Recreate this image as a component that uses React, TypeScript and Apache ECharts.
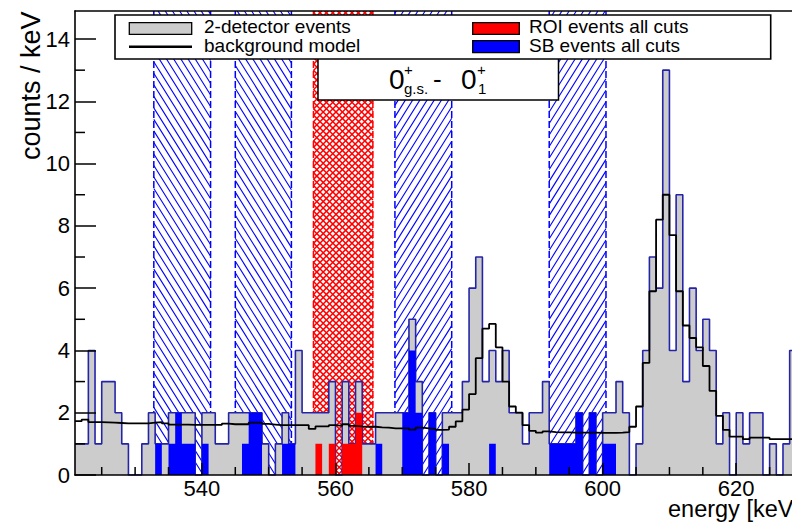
import React, { useEffect, useRef } from "react";
import * as echarts from "echarts";

// ---------------- data ----------------
const FIRST_BIN = 521; // lower edge of the first 1-keV bin
const X_MIN = 521;
const X_MAX = 628.35;
const Y_MAX = 14.9;

// 2-detector events per 1 keV bin, 521..628 keV
const totalCounts = [
  1, 1, 4, 1, 3, 3, 2, 1, 0, 0,
  1, 2, 1, 1, 2, 2, 2, 2, 0, 2,
  2, 1, 1, 2, 2, 2, 2, 2, 1, 0,
  1, 2, 1, 4, 2, 2, 2, 2, 3, 0,
  3, 1, 3, 1, 1, 2, 2, 2, 2, 2,
  5, 3, 0, 2, 0, 2, 2, 2, 3, 6,
  7, 3, 4, 3, 4, 2, 2, 1, 2, 2,
  3, 1, 1, 1, 1, 2, 0, 2, 0, 2,
  2, 3, 2, 0, 1, 4, 7, 6, 13, 4,
  9, 3, 6, 4, 5, 4, 1, 2, 0, 2,
  1, 2, 2, 0, 1, 0, 1, 4,
];

// background model per bin, 521..628 keV
const backgroundModel = [
  1.73, 1.78, 1.7, 1.7, 1.69, 1.68, 1.67, 1.66, 1.66, 1.66,
  1.66, 1.68, 1.7, 1.66, 1.62, 1.62, 1.62, 1.61, 1.61, 1.61,
  1.61, 1.61, 1.65, 1.63, 1.63, 1.63, 1.68, 1.68, 1.64, 1.62,
  1.6, 1.6, 1.6, 1.6, 1.6, 1.48, 1.56, 1.56, 1.6, 1.58,
  1.63, 1.58, 1.56, 1.55, 1.55, 1.53, 1.52, 1.5, 1.5, 1.5,
  1.46, 1.52, 1.5, 1.48, 1.45, 1.46, 1.55, 1.72, 2.1, 2.6,
  3.75, 4.7, 4.85, 4.1, 3.0, 2.2, 2.0, 1.6, 1.42, 1.36,
  1.4, 1.38, 1.37, 1.37, 1.36, 1.36, 1.36, 1.36, 1.35, 1.35,
  1.35, 1.36, 1.38, 1.55, 2.2, 3.6, 5.9, 8.2, 9.0, 7.7,
  5.9, 4.8, 4.4, 4.1, 3.5, 2.7, 1.9, 1.45, 1.23, 1.23,
  1.15, 1.2, 1.2, 1.2, 1.15, 1.15, 1.15, 1.15,
];

// SB events all cuts: [bin lower edge keV, counts]
const sbEvents = [
  [533, 1], [535, 1], [536, 2], [537, 1], [538, 1], [540, 1],
  [546, 1], [547, 2], [548, 2], [552, 1], [553, 1],
  [566, 1], [570, 2], [571, 4], [572, 2], [574, 2], [576, 1],
  [583, 1],
  [592, 1], [593, 1], [594, 1], [595, 1], [596, 2], [598, 2],
  [600, 1], [601, 1],
];

// ROI events all cuts: [bin lower edge keV, counts]
const roiEvents = [
  [557, 1], [559, 1], [561, 1], [562, 1], [563, 2],
];

// side-band windows (keV) and hatch kind (0 = "\\", 1 = "/")
const sbBands = [
  [532.8, 541.3, 0],
  [545.0, 553.4, 0],
  [568.9, 577.4, 1],
  [592.0, 600.5, 1],
];
// region of interest window (keV), kind 2 = cross hatch
const roiBand = [[556.7, 565.6, 2]];

const xMajorTicks = [540, 560, 580, 600, 620];
const xMinorTicks = [525, 530, 535, 545, 550, 555, 565, 570, 575, 585, 590, 595, 605, 610, 615, 625];
const yMajorTicks = [0, 2, 4, 6, 8, 10, 12, 14];
const yMinorTicks = [1, 3, 5, 7, 9, 11, 13];

// ---------------- helpers ----------------
const FONT = "'Liberation Sans', Arial, Helvetica, sans-serif";

function stepData(arr: number[]) {
  const d: number[][] = arr.map((v, i) => [FIRST_BIN + i, v]);
  d.push([FIRST_BIN + arr.length, arr[arr.length - 1]]);
  return d;
}

function sparseToBins(pairs: number[][]) {
  return totalCounts.map((_, i) => {
    const e = FIRST_BIN + i;
    const hit = pairs.find((p) => p[0] === e);
    return hit ? hit[1] : 0;
  });
}

function hatchSegments(L: number, T: number, R: number, B: number, m: number, s: number, dir: number) {
  // dir 0: "\" lines y = m x + c ; dir 1: "/" lines y = -m x + c
  const segs: number[][] = [];
  const step = m * s;
  if (dir === 0) {
    const cMin = T - m * R, cMax = B - m * L;
    for (let k = Math.ceil(cMin / step); k * step <= cMax; k++) {
      const c = k * step;
      const xa = Math.max(L, (T - c) / m), xb = Math.min(R, (B - c) / m);
      if (xb > xa) segs.push([xa, m * xa + c, xb, m * xb + c]);
    }
  } else {
    const cMin = T + m * L, cMax = B + m * R;
    for (let k = Math.ceil(cMin / step); k * step <= cMax; k++) {
      const c = k * step;
      const xa = Math.max(L, (c - B) / m), xb = Math.min(R, (c - T) / m);
      if (xb > xa) segs.push([xa, -m * xa + c, xb, -m * xb + c]);
    }
  }
  return segs;
}

function bandRenderItem(params: any, api: any) {
  const x0 = api.value(0), x1 = api.value(1), kind = api.value(2);
  const bl = api.coord([x0, 0]);
  const tr = api.coord([x1, Y_MAX]);
  const L = bl[0], B = bl[1], R = tr[0], T = tr[1];
  const color = kind === 2 ? "#ff0000" : "#0000ff";
  const children: any[] = [];
  const addLines = (segs: number[][], lw: number) => {
    segs.forEach((g) =>
      children.push({
        type: "line",
        shape: { x1: g[0], y1: g[1], x2: g[2], y2: g[3] },
        style: { stroke: color, lineWidth: lw },
        silent: true,
      })
    );
  };
  if (kind === 2) {
    addLines(hatchSegments(L, T, R, B, 1, 6.4, 0), 1.5);
    addLines(hatchSegments(L, T, R, B, 1, 6.4, 1), 1.5);
  } else {
    addLines(hatchSegments(L, T, R, B, 1.6, 7.2, kind), 1.1);
  }
  [L, R].forEach((x) =>
    children.push({
      type: "line",
      shape: { x1: x, y1: T, x2: x, y2: B },
      style: { stroke: color, lineWidth: 1.5, lineDash: [7, 3] },
      silent: true,
    })
  );
  return { type: "group", children };
}

function xTickRenderItem(params: any, api: any) {
  const p = api.coord([api.value(0), 0]);
  return {
    type: "line",
    shape: { x1: p[0], y1: p[1], x2: p[0], y2: p[1] - 8 },
    style: { stroke: "#000", lineWidth: 1.5 },
  };
}

function yTickRenderItem(params: any, api: any) {
  const p = api.coord([X_MIN, api.value(0)]);
  return {
    type: "line",
    shape: { x1: p[0], y1: p[1], x2: p[0] + 10, y2: p[1] },
    style: { stroke: "#000", lineWidth: 1.5 },
  };
}

function txt(text: string, x: number, y: number, size: number, extra: any = {}) {
  const { style, ...rest } = extra;
  return {
    type: "text",
    x,
    y,
    z: 110,
    ...rest,
    style: {
      text,
      fill: "#000",
      fontSize: size,
      fontFamily: FONT,
      align: "left",
      verticalAlign: "middle",
      ...(style || {}),
    },
  };
}

export default function App() {
  const ref = useRef<HTMLDivElement>(null);

  useEffect(() => {
    if (!ref.current) return;
    const chart = echarts.init(ref.current, undefined, { renderer: "svg" });
    const axisLineStyle = { color: "#000", width: 1.6 };

    const option: any = {
      animation: false,
      backgroundColor: "#ffffff",
      grid: { left: 75, right: 0, top: 11, bottom: 47, containLabel: false, outerBoundsMode: "none" },
      xAxis: [
        {
          type: "value",
          min: X_MIN,
          max: X_MAX,
          position: "bottom",
          z: 10,
          axisLine: { show: true, onZero: false, lineStyle: axisLineStyle },
          axisTick: { show: true, inside: true, length: 12, customValues: xMajorTicks, lineStyle: { color: "#000", width: 1.5 } },
          axisLabel: { show: true, customValues: xMajorTicks, fontSize: 22, fontFamily: FONT, color: "#000", margin: 2 },
          splitLine: { show: false },
        },
        {
          type: "value",
          min: X_MIN,
          max: X_MAX,
          position: "top",
          z: 10,
          axisLine: { show: true, onZero: false, lineStyle: axisLineStyle },
          axisTick: { show: false },
          axisLabel: { show: false },
          splitLine: { show: false },
        },
      ],
      yAxis: {
        type: "value",
        min: 0,
        max: Y_MAX,
        z: 10,
        axisLine: { show: true, onZero: false, lineStyle: axisLineStyle },
        axisTick: { show: true, inside: true, length: 21, customValues: yMajorTicks, lineStyle: { color: "#000", width: 1.5 } },
        axisLabel: { show: true, customValues: yMajorTicks, fontSize: 22, fontFamily: FONT, color: "#000", margin: 5 },
        splitLine: { show: false },
      },
      series: [
        {
          type: "custom",
          name: "windows",
          data: [...sbBands, ...roiBand],
          renderItem: bandRenderItem,
          clip: true,
          silent: true,
          z: 1,
        },
        {
          type: "line",
          name: "2-detector events",
          data: stepData(totalCounts),
          step: "end",
          symbol: "none",
          lineStyle: { color: "#2424a8", width: 1.6 },
          areaStyle: { color: "#cccccc", opacity: 1 },
          z: 2,
          silent: true,
        },
        {
          type: "line",
          name: "SB events all cuts",
          data: stepData(sparseToBins(sbEvents)),
          step: "end",
          symbol: "none",
          lineStyle: { width: 0, opacity: 0 },
          areaStyle: { color: "#0000ff", opacity: 1 },
          z: 3,
          silent: true,
        },
        {
          type: "line",
          name: "ROI events all cuts",
          data: stepData(sparseToBins(roiEvents)),
          step: "end",
          symbol: "none",
          lineStyle: { width: 0, opacity: 0 },
          areaStyle: { color: "#ff0000", opacity: 1 },
          z: 3,
          silent: true,
        },
        {
          type: "line",
          name: "background model",
          data: stepData(backgroundModel),
          step: "end",
          symbol: "none",
          lineStyle: { color: "#000000", width: 1.8 },
          z: 4,
          silent: true,
        },
        {
          type: "custom",
          name: "x minor ticks",
          data: xMinorTicks.map((v) => [v]),
          renderItem: xTickRenderItem,
          clip: false,
          silent: true,
          z: 11,
        },
        {
          type: "custom",
          name: "y minor ticks",
          data: yMinorTicks.map((v) => [v]),
          renderItem: yTickRenderItem,
          clip: false,
          silent: true,
          z: 11,
        },
      ],
      graphic: [
        // transition label box
        {
          type: "rect",
          z: 90,
          shape: { x: 318, y: 40, width: 240.5, height: 60 },
          style: { fill: "#ffffff", stroke: "#000", lineWidth: 1.5 },
        },
        txt("0", 389, 79, 28, { z: 95 }),
        txt("+", 404, 69, 15, { z: 95 }),
        txt("g.s.", 404, 88, 15, { z: 95 }),
        txt("-", 433, 79, 26, { z: 95 }),
        txt("0", 461, 79, 28, { z: 95 }),
        txt("+", 477, 69, 15, { z: 95 }),
        txt("1", 478, 88, 15, { z: 95 }),
        // legend
        {
          type: "rect",
          z: 100,
          shape: { x: 115, y: 15, width: 655.7, height: 44 },
          style: { fill: "#ffffff", stroke: "#000", lineWidth: 1.6 },
        },
        {
          type: "rect",
          z: 105,
          shape: { x: 129.3, y: 22.7, width: 62.4, height: 11.6 },
          style: { fill: "#cccccc", stroke: "#000", lineWidth: 1.3 },
        },
        {
          type: "line",
          z: 105,
          shape: { x1: 129, y1: 46.7, x2: 192, y2: 46.7 },
          style: { stroke: "#000", lineWidth: 2.4 },
        },
        {
          type: "rect",
          z: 105,
          shape: { x: 472.7, y: 22.7, width: 46.6, height: 11.6 },
          style: { fill: "#ff0000", stroke: "#000", lineWidth: 1.3 },
        },
        {
          type: "rect",
          z: 105,
          shape: { x: 472.7, y: 40.7, width: 46.6, height: 12 },
          style: { fill: "#0000ff", stroke: "#000", lineWidth: 1.3 },
        },
        txt("2-detector events", 204, 26.6, 19, { style: { lineHeight: 15 } }),
        txt("background model", 204, 45.4, 19, { style: { lineHeight: 15 } }),
        txt("ROI events all cuts", 529, 26.6, 19, { style: { lineHeight: 15 } }),
        txt("SB events all cuts", 529, 45.4, 19, { style: { lineHeight: 15 } }),
        // axis titles
        txt("counts / keV", 31, 160, 27, { rotation: Math.PI / 2 }),
        txt("energy [keV]", 668, 509, 23.5, { style: { lineHeight: 18 } }),
      ],
    };

    chart.setOption(option);
    return () => chart.dispose();
  }, []);

  return (
    <div
      ref={ref}
      style={{ position: "fixed", left: 0, top: 0, width: 792, height: 522, background: "#fff" }}
    />
  );
}
